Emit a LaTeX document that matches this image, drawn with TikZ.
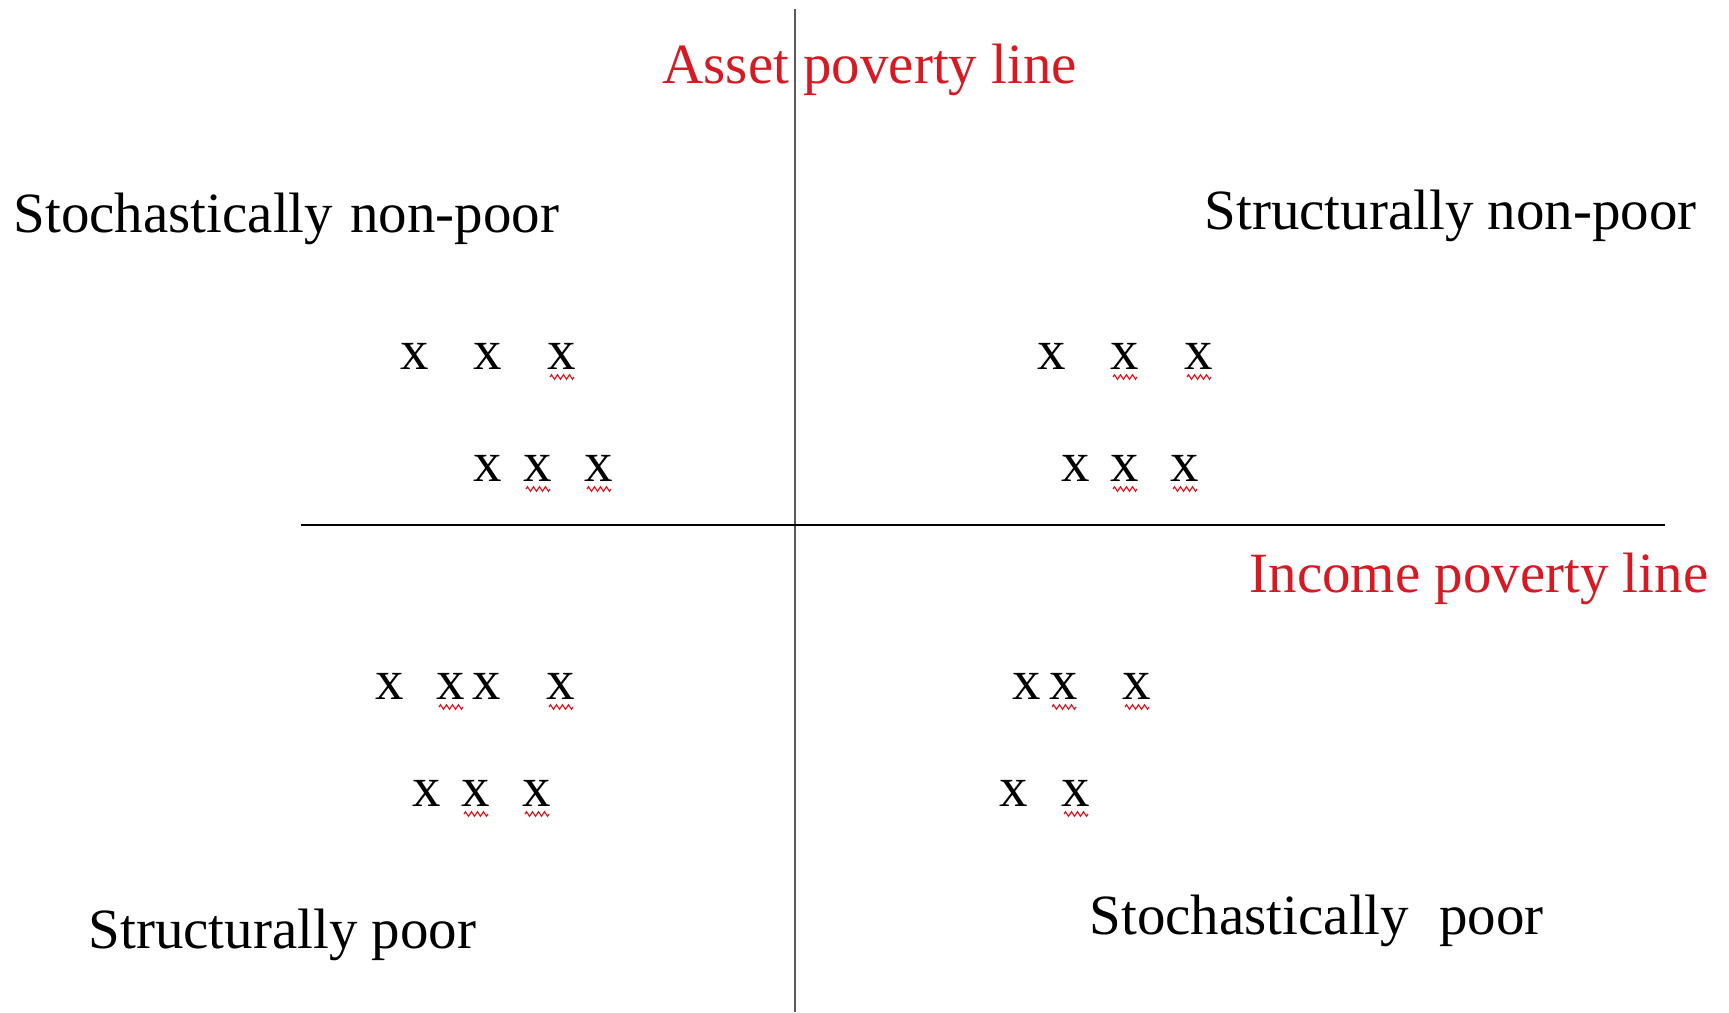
\documentclass[tikz,border=0pt]{standalone}
\usepackage{fontspec}
\setmainfont{Liberation Serif}
\usepackage{tikz}
\usetikzlibrary{decorations.pathmorphing}
\definecolor{linia}{RGB}{215,25,35}

\begin{document}
\begin{tikzpicture}[
    text font/.style={font=\fontsize{16.2}{19}\selectfont},
    etiq/.style={text font, anchor=base west, inner sep=0pt},
    creu/.style={text font, inner sep=0pt},
    ona/.style={linia, line width=0.35pt,
        decorate, decoration={zigzag, segment length=0.06cm, amplitude=0.022cm}}
]

\useasboundingbox (0,0) rectangle (17.29,10.12);

% Eixos
\coordinate (vdalt) at (7.95,10.03);
\coordinate (vbaix) at (7.95,0);
\coordinate (hesq) at (3.01,4.87);
\coordinate (hdre) at (16.65,4.87);
\draw[black!65, line width=0.6pt] (vdalt) -- (vbaix);
\draw[black, line width=0.6pt] (hesq) -- (hdre);

% Linies de pobresa
\node[etiq, linia] (asset) at (6.62,9.29) {Asset poverty line};
\node[etiq, linia] (income) at (12.49,4.20) {Income poverty line};

% Quadrants
\node[etiq] (stonp) at (0.13,7.80) {Stochastically\hspace{0.05em} non-poor};
\node[etiq] (strnp) at (12.04,7.83) {Structurally non-poor};
\node[etiq] (strp) at (0.88,0.64) {Structurally poor};
\node[etiq] (stop) at (10.89,0.78) {Stochastically\hspace{0.28em} poor};

% Llars
\foreach \nom/\x/\y in {
    a11/4.15/6.56, a12/4.88/6.56, a13/5.62/6.56,
    a21/4.88/5.44, a22/5.38/5.44, a23/5.99/5.44,
    b11/10.52/6.56, b12/11.25/6.56, b13/11.99/6.56,
    b21/10.76/5.44, b22/11.25/5.44, b23/11.85/5.44,
    c11/3.90/3.26, c12/4.51/3.26, c13/4.87/3.26, c14/5.61/3.26,
    c21/4.27/2.19, c22/4.76/2.19, c23/5.37/2.19,
    d11/10.27/3.26, d12/10.64/3.26, d13/11.37/3.26,
    d21/10.14/2.19, d22/10.76/2.19}
    \node[creu] (\nom) at (\x,\y) {x};

% Subratllat
\foreach \nom in {a13,a22,a23,b12,b13,b22,b23,c12,c14,c22,c23,d12,d13,d22}
    \draw[ona] ([xshift=-0.12cm,yshift=-0.21cm]\nom.center)
        -- ([xshift=0.12cm,yshift=-0.21cm]\nom.center);

\end{tikzpicture}
\end{document}
